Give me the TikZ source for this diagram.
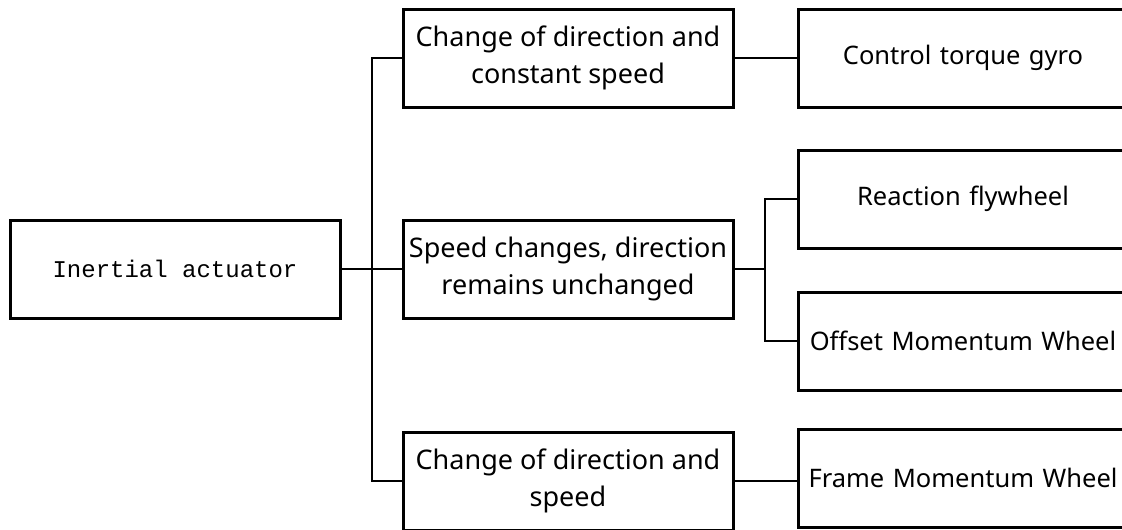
\documentclass[tikz,border=0pt]{standalone}
\usepackage{fontspec}
\setmainfont{Noto Sans}
\newfontfamily\typefont{Liberation Mono}
\usetikzlibrary{positioning}
\tikzset{
  box/.style={draw, line width=3pt, minimum width=330pt, minimum height=98pt,
    inner sep=0pt, align=center, font=\fontsize{27}{37}\selectfont},
  leaf/.style={box, text width=324pt, font=\fontsize{25.5}{34}\selectfont},
  link/.style={line width=1.8pt}
}
\begin{document}
\begin{tikzpicture}[x=1pt,y=-1pt]
  \useasboundingbox (0,0) rectangle (1122,530);
  \clip (0,0) rectangle (1122,530);
  % root
  \node[box,font=\typefont\fontsize{24}{28}\selectfont] (root) at (175,269) {Inertial actuator};
  % middle column
  \node[box] (mid1) at (568,58) {Change of direction and\\constant speed};
  \node[box] (mid2) at (568,269) {Speed changes, direction\\remains unchanged};
  \node[box] (mid3) at (568,481) {Change of direction and\\speed};
  % right column
  \node[leaf] (gyro) at (963,58) {Control torque gyro};
  \node[leaf] (fly) at (963,199) {Reaction flywheel};
  \node[leaf] (offset) at (963,341) {\mbox{Offset Momentum Wheel}};
  \node[leaf] (frame) at (963,478) {\mbox{Frame Momentum Wheel}};
  % junctions
  \coordinate (j1) at (372,269);
  \coordinate (j2) at (765,269);
  \draw[link] (root.east) -- (mid2.west);
  \draw[link] (mid1.west) -| (j1) |- (mid3.west);
  \draw[link] (mid1.east) -- (gyro.west);
  \draw[link] (mid2.east) -- (j2);
  \draw[link] (fly.west) -| (j2) |- (offset.west);
  \draw[link] (mid3.east) -- (mid3.east -| frame.west);
\end{tikzpicture}
\end{document}
